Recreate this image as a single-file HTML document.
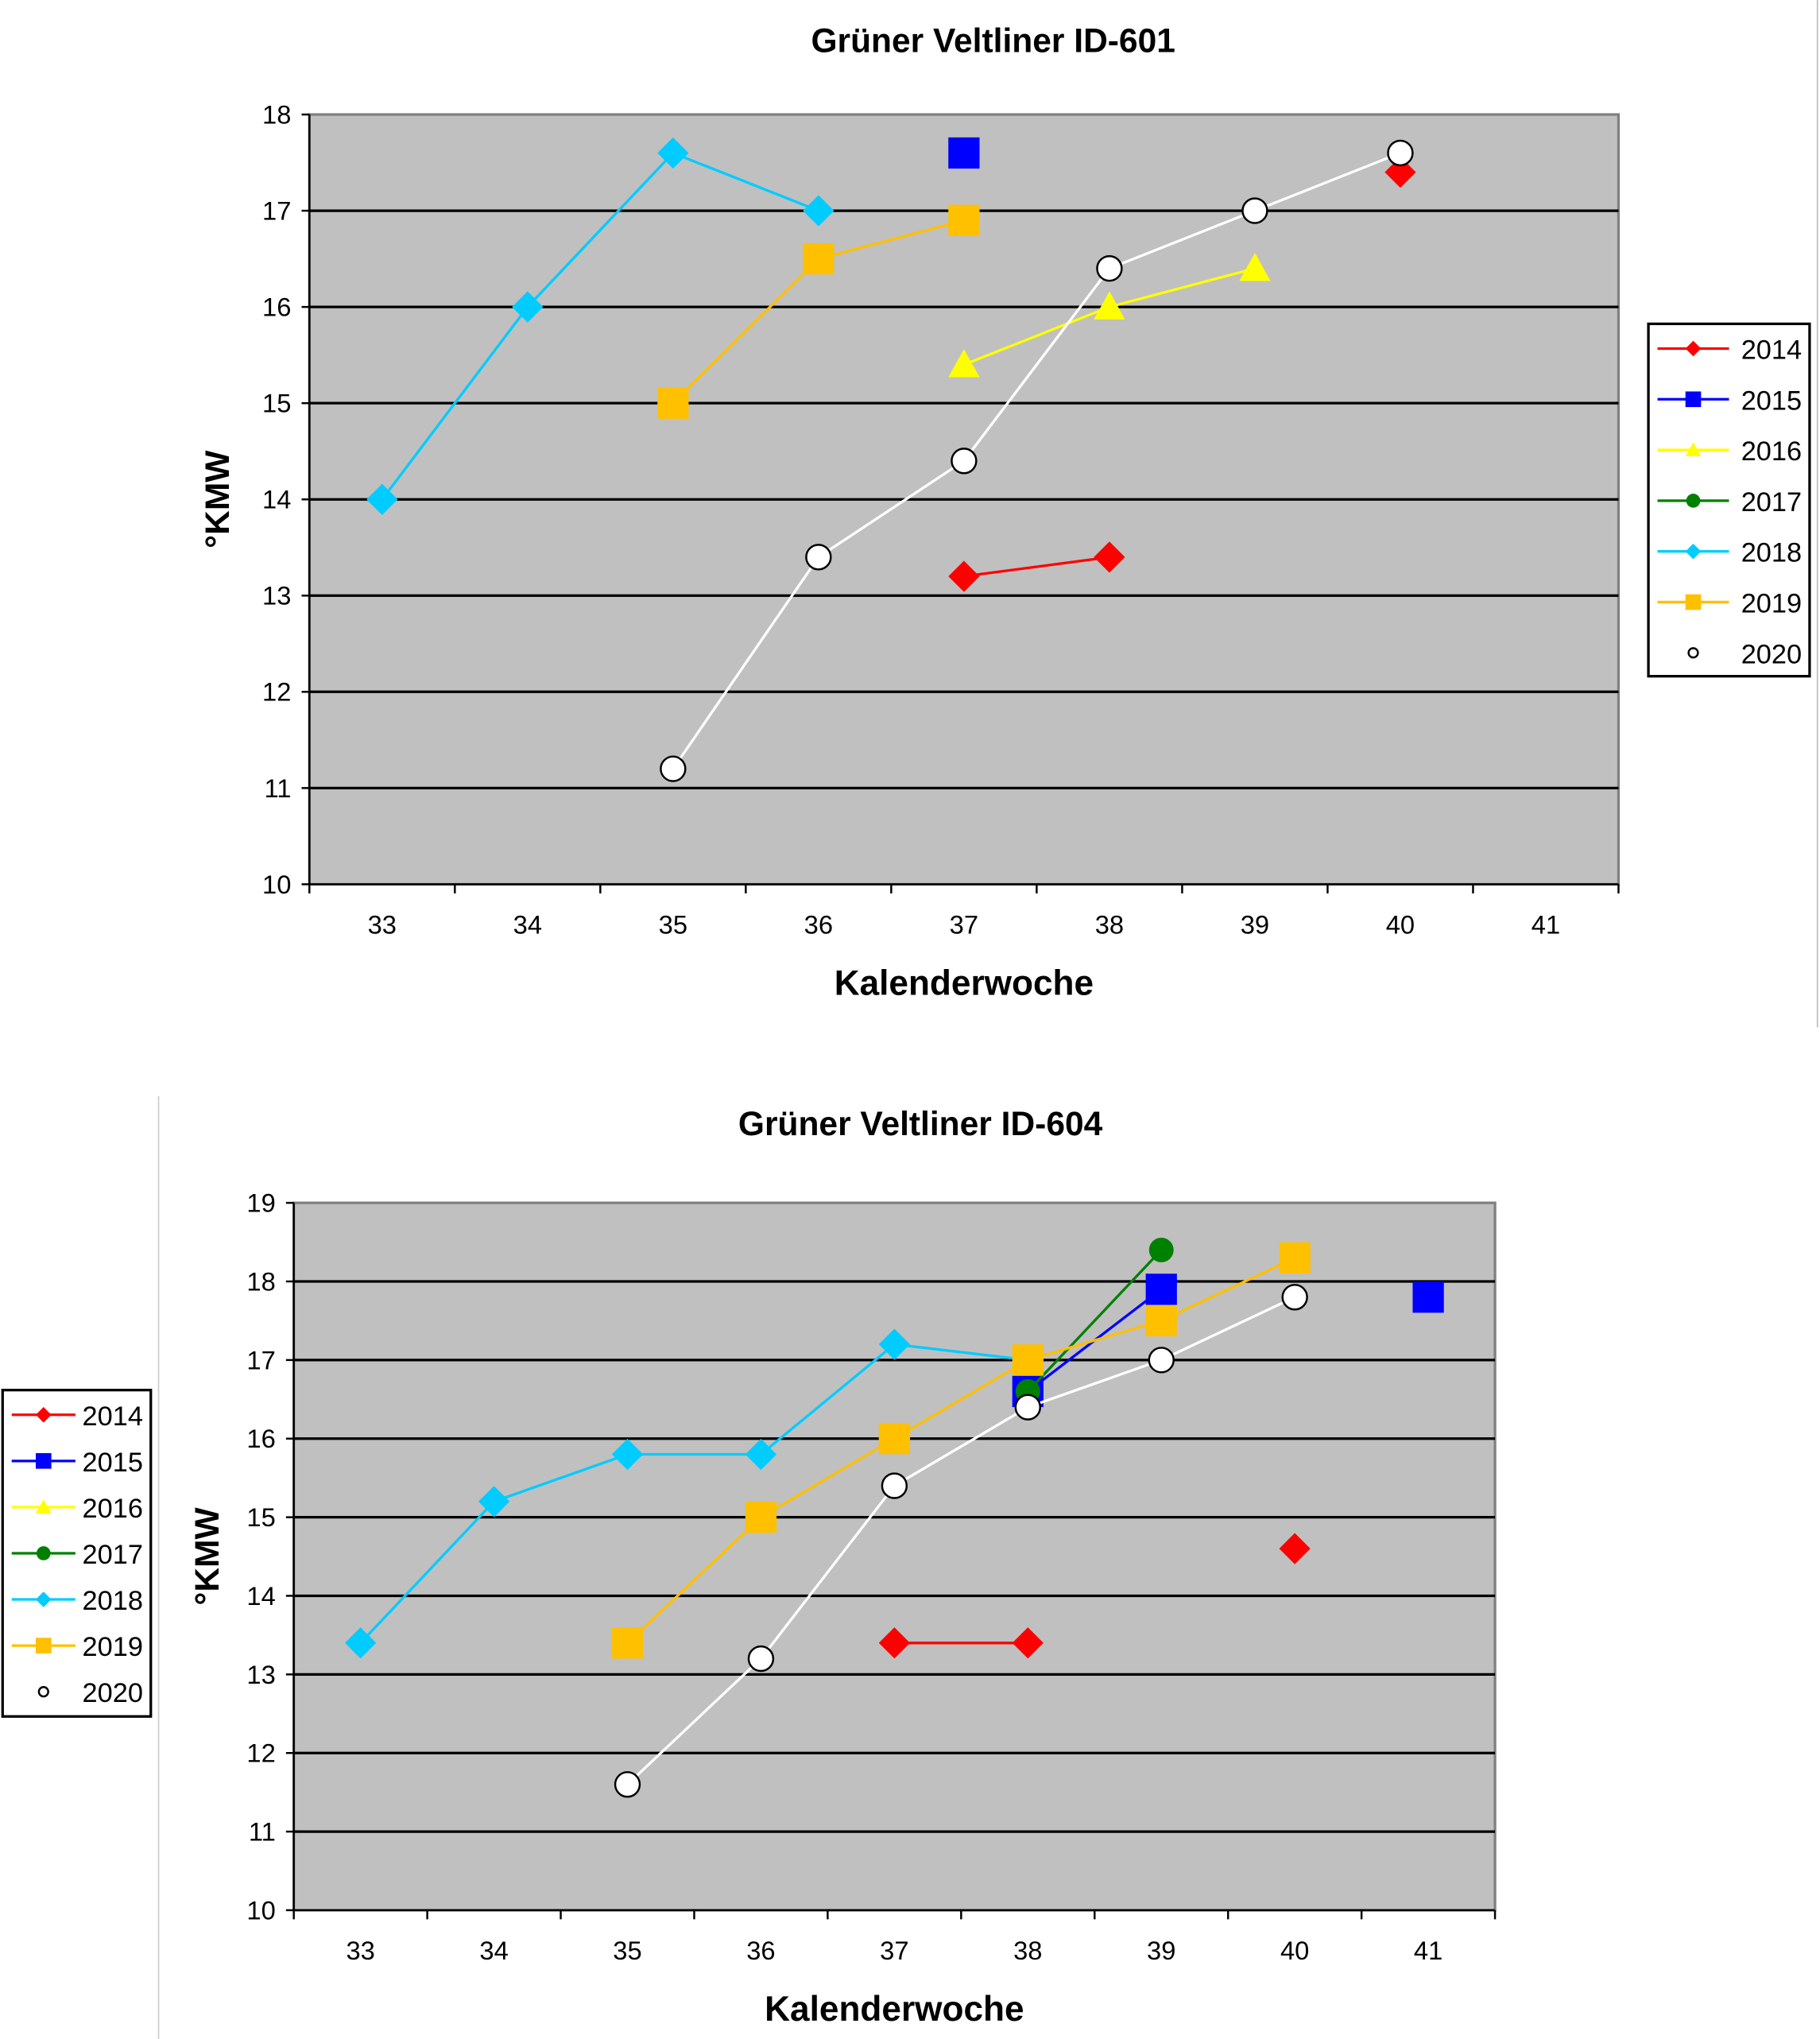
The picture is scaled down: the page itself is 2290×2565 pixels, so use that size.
<!DOCTYPE html>
<html><head><meta charset="utf-8"><style>
html,body{margin:0;padding:0;background:#fff;}
svg{display:block;font-family:"Liberation Sans",Arial,sans-serif;}
</style></head><body>
<svg id="svg" width="2290" height="2565" viewBox="0 0 1400 1568" xmlns="http://www.w3.org/2000/svg">
<line x1="1398" y1="0" x2="1398" y2="790" stroke="#bbb" stroke-width="1"/>
<line x1="122" y1="843" x2="122" y2="1568" stroke="#ccc" stroke-width="1"/>
</svg>
<script>
const categories=[33,34,35,36,37,38,39,40,41];
const years=["2014","2015","2016","2017","2018","2019","2020"];
const c1_2014=[null,null,null,null,13.2,13.4,null,17.4,null];
const c1_2015=[null,null,null,null,17.6,null,null,null,null];
const c1_2016=[null,null,null,null,15.4,16.0,16.4,null,null];
const c1_2017=[null,null,null,null,null,null,null,null,null];
const c1_2018=[14,16,17.6,17,null,null,null,null,null];
const c1_2019=[null,null,15,16.5,16.9,null,null,null,null];
const c1_2020=[null,null,11.2,13.4,14.4,16.4,17.0,17.6,null];
const c2_2014=[null,null,null,null,13.4,13.4,null,14.6,null];
const c2_2015=[null,null,null,null,null,16.6,17.9,null,17.8];
const c2_2016=[null,null,null,null,null,null,null,null,null];
const c2_2017=[null,null,null,null,null,16.6,18.4,null,null];
const c2_2018=[13.4,15.2,15.8,15.8,17.2,17.0,null,null,null];
const c2_2019=[null,null,13.4,15,16,17,17.5,18.3,null];
const c2_2020=[null,null,11.6,13.2,15.4,16.4,17.0,17.8,null];
const yTicks1=[10,11,12,13,14,15,16,17,18];
const yTicks2=[10,11,12,13,14,15,16,17,18,19];

const NS="http://www.w3.org/2000/svg";
const svg=document.getElementById('svg');
const colors=["#ff0000","#0000ff","#ffff00","#008000","#00ccff","#ffc000","#ffffff"];
const lineColors=["#ff0000","#0000ff","#ffff00","#008000","#00ccff","#ffc000","#ffffff"];
const shapes=["diamond","square","triangle","circle","diamond","square","circle"];
function mk(tag,attrs,parent){const e=document.createElementNS(NS,tag);for(const k in attrs)e.setAttribute(k,attrs[k]);(parent||svg).appendChild(e);return e;}
function marker(g,shape,x,y,s,fill){
  let e;
  if(shape==="diamond")e=mk('polygon',{points:`${x},${y-s} ${x+s},${y} ${x},${y+s} ${x-s},${y}`,fill:fill},g);
  else if(shape==="square")e=mk('rect',{x:x-s,y:y-s,width:2*s,height:2*s,fill:fill},g);
  else if(shape==="triangle")e=mk('polygon',{points:`${x},${y-s} ${x+s},${y+s*0.8} ${x-s},${y+s*0.8}`,fill:fill},g);
  else e=mk('circle',{cx:x,cy:y,r:s*0.9,fill:fill,stroke:fill==="#ffffff"?"#000":"none","stroke-width":1.5},g);
  return e;
}
function chart(cfg){
  const {left,right,top,bottom,ymin,ymax,ticks,series,title,titleX,titleY,prefix}=cfg;
  const bw=(right-left)/categories.length;
  const xs=i=>left+bw*(i+0.5);
  const ys=v=>bottom-(v-ymin)/(ymax-ymin)*(bottom-top);
  const g=mk('g',{});
  
  
  const t=mk('text',{x:titleX,y:titleY,'text-anchor':'middle','font-size':26,'font-weight':'bold'},g);t.textContent=title;
  
  
  const pa=mk('rect',{x:left,y:top,width:right-left,height:bottom-top,fill:'#c0c0c0',stroke:'#808080','stroke-width':2},g);
  
  
  ticks.forEach(v=>{
    const y=ys(v);
    if(v>ymin&&v<ymax){const gl=mk('line',{x1:left,x2:right,y1:y,y2:y,stroke:'#000','stroke-width':2},g);
      
      }
    mk('line',{x1:left-6,x2:left,y1:y,y2:y,stroke:'#000','stroke-width':1.5},g);
    const tl=mk('text',{x:left-14,y:y+7,'text-anchor':'end','font-size':20},g);tl.textContent=v;
    
    
  });
  mk('line',{x1:left,x2:left,y1:top,y2:bottom,stroke:'#000','stroke-width':1.5},g);
  mk('line',{x1:left,x2:right,y1:bottom,y2:bottom,stroke:'#000','stroke-width':1.5},g);
  categories.forEach((c,i)=>{
    mk('line',{x1:left+bw*(i+1),x2:left+bw*(i+1),y1:bottom,y2:bottom+7,stroke:'#000','stroke-width':1.5},g);
    if(i===0)mk('line',{x1:left,x2:left,y1:bottom,y2:bottom+7,stroke:'#000','stroke-width':1.5},g);
    const xl=mk('text',{x:xs(i),y:bottom+38,'text-anchor':'middle','font-size':20},g);xl.textContent=c;
    
    
  });
  const xt=mk('text',{x:(left+right)/2,y:bottom+85,'text-anchor':'middle','font-size':27,'font-weight':'bold'},g);xt.textContent='Kalenderwoche';
  
  
  const yx=left-cfg.ytOff,yy=(top+bottom)/2;
  const yt=mk('text',{x:yx,y:yy,'text-anchor':'middle','font-size':26,'font-weight':'bold',transform:`rotate(-90 ${yx} ${yy})`},g);yt.textContent='°KMW';
  
  
  series.forEach((vals,si)=>{
    const sg=mk('g',{},g);
    
    
    for(let i=0;i<vals.length-1;i++){
      if(vals[i]!=null&&vals[i+1]!=null){
        mk('line',{x1:xs(i),y1:ys(vals[i]),x2:xs(i+1),y2:ys(vals[i+1]),stroke:lineColors[si],'stroke-width':2},sg);
      }
    }
    vals.forEach((v,i)=>{
      if(v==null)return;
      const m=marker(sg,shapes[si],xs(i),ys(v),shapes[si]==="circle"?10.5:12,colors[si]);
      
      
    });
  });
  const L=cfg.legend;
  const lg=mk('g',{},g);
  
  
  mk('rect',{x:L.x,y:L.y,width:L.w,height:L.h,fill:'#fff',stroke:'#000','stroke-width':2},lg);
  years.forEach((yr,si)=>{
    const cy=L.y+L.first+si*L.step;
    const le=mk('g',{},lg);
    
    
    if(si!==6)mk('line',{x1:L.x+7,x2:L.x+L.lw,y1:cy,y2:cy,stroke:lineColors[si],'stroke-width':2},le);
    marker(le,shapes[si],L.x+7+(L.lw-7)/2,cy,si===6?4:6,colors[si]);
    const lt=mk('text',{x:L.x+L.w-6,y:cy+8,'text-anchor':'end','font-size':21},le);lt.textContent=yr;
  });
}
chart({prefix:'id601',left:238,right:1245,top:88,bottom:680,ymin:10,ymax:18,ticks:yTicks1,ytOff:62,
  series:[c1_2014,c1_2015,c1_2016,c1_2017,c1_2018,c1_2019,c1_2020],
  title:'Grüner Veltliner ID-601',titleX:764,titleY:40,
  legend:{x:1268,y:249,w:124,h:271,first:19,step:39,lw:62}});
chart({prefix:'id604',left:226,right:1150,top:925,bottom:1469,ymin:10,ymax:19,ticks:yTicks2,ytOff:58,
  series:[c2_2014,c2_2015,c2_2016,c2_2017,c2_2018,c2_2019,c2_2020],
  title:'Grüner Veltliner ID-604',titleX:708,titleY:873,
  legend:{x:2,y:1069,w:114,h:251,first:19,step:35.5,lw:56}});
</script>
</body></html>
